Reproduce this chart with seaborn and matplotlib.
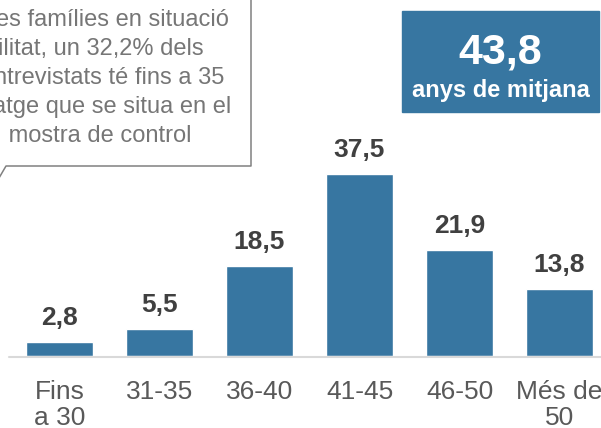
import matplotlib
matplotlib.use("Agg")

import pandas as pd
import matplotlib.pyplot as plt
import seaborn as sns
from matplotlib.lines import Line2D
from matplotlib.patches import Rectangle

sns.set_style("white")
plt.rcParams["font.family"] = ["Liberation Sans", "DejaVu Sans"]

# data
groups = ["Fins\na 30", "31-35", "36-40", "41-45", "46-50", "Més de\n50"]
values = [2.8, 5.5, 18.5, 37.5, 21.9, 13.8]
mean_age = "43,8"
mean_label = "anys de mitjana"
# callout text (cropped on the left in the original)
note_lines = ["es famílies en situació", "ilitat, un 32,2% dels",
              "ntrevistats té fins a 35", "atge que se situa en el",
              " mostra de control"]

BLUE = "#3776a1"
W, H = 601, 428


def fx(px):
    return px / W


def fy(py):
    return 1 - py / H


df = pd.DataFrame({"group": groups, "value": values})

fig = plt.figure(figsize=(W / 100, H / 100), dpi=100)
ax = fig.add_axes([0, fy(356), 1, 356 / H])

sns.barplot(data=df, x="group", y="value", color=BLUE, saturation=1,
            width=0.67, ax=ax)

ax.set_xlim(-0.595, 5.415)
ax.set_ylim(0, 356 / 4.85)
for s in ax.spines.values():
    s.set_visible(False)
ax.set_yticks([])
ax.set_xlabel("")
ax.set_ylabel("")
ax.axhline(-0.2, xmin=9 / W, xmax=1, color="#d9d9d9", lw=1.5, clip_on=False)
ax.tick_params(axis="x", length=0, pad=17.5, labelsize=19, labelcolor="#595959")
for lab in ax.get_xticklabels():
    lab.set_linespacing(1.07)

for i, v in enumerate(values):
    ax.annotate(f"{v:.1f}".replace(".", ","), (i, v), xytext=(0, 12.2),
                textcoords="offset points", ha="center", va="baseline",
                fontsize=19, fontweight="bold", color="#404040")

# callout box
ends = [229, 204, 224, 231, 191]
bases = [26, 55, 84, 113, 142]
for line, xe, yb in zip(note_lines, ends, bases):
    fig.text(fx(xe), fy(yb), line, ha="right", va="baseline",
             fontsize=17, color="#767676")
fig.add_artist(Line2D([fx(251), fx(251), fx(6), fx(-1)],
                      [fy(-5), fy(166), fy(166), fy(178)],
                      color="#808080", lw=1.1, transform=fig.transFigure))

# mean age box
fig.add_artist(Rectangle((fx(402), fy(112)), fx(599) - fx(402), fy(11) - fy(112),
                         color=BLUE, transform=fig.transFigure))
fig.text(fx(500.5), fy(64), mean_age, ha="center", va="baseline",
         fontsize=31, fontweight="bold", color="white")
fig.text(fx(500.5), fy(97), mean_label, ha="center", va="baseline",
         fontsize=17, fontweight="bold", color="white")

fig.savefig("out.png", dpi=100)
plt.close()
